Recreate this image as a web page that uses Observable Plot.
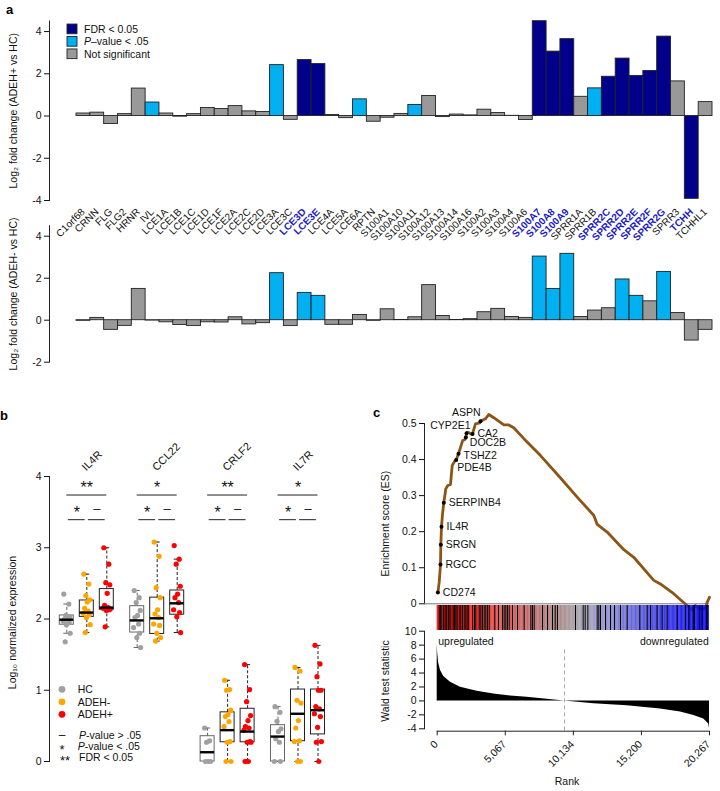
<!DOCTYPE html>
<html><head><meta charset="utf-8">
<script src="https://cdn.jsdelivr.net/npm/d3@7"></script>
<script src="https://cdn.jsdelivr.net/npm/@observablehq/plot@0.6"></script>
<style>
body{margin:0;background:#fff;}
#wrap{position:relative;width:720px;height:791px;overflow:hidden;background:#fff;}
#wrap svg{position:absolute;left:0;top:0;}
</style></head><body><div id="wrap"></div>
<script>
// ---------- Panel a data ----------
const genes = ["C1orf68","CRNN","FLG","FLG2","HRNR","IVL","LCE1A","LCE1B","LCE1C","LCE1D","LCE1F","LCE2A","LCE2C","LCE2D","LCE3A","LCE3C","LCE3D","LCE3E","LCE4A","LCE5A","LCE6A","RPTN","S100A1","S100A10","S100A11","S100A12","S100A13","S100A14","S100A16","S100A2","S100A3","S100A4","S100A6","S100A7","S100A8","S100A9","SPRR1A","SPRR1B","SPRR2C","SPRR2D","SPRR2E","SPRR2F","SPRR2G","SPRR3","TCHH","TCHHL1"];
const lfcPos = [0.12,0.16,-0.38,0.09,1.30,0.64,0.12,-0.03,0.09,0.38,0.33,0.47,0.22,0.19,2.41,-0.18,2.65,2.46,0.05,-0.10,0.79,-0.27,-0.08,0.10,0.52,0.95,-0.05,0.07,0.03,0.30,0.14,0.01,-0.19,4.49,3.05,3.64,0.91,1.31,1.86,2.72,1.90,2.13,3.76,1.64,-3.92,0.66];
const sigPos = ["NS","NS","NS","NS","NS","P","NS","NS","NS","NS","NS","NS","NS","NS","P","NS","FDR","FDR","NS","NS","P","NS","NS","NS","P","NS","NS","NS","NS","NS","NS","NS","NS","FDR","FDR","FDR","NS","P","FDR","FDR","FDR","FDR","FDR","NS","FDR","NS"];
const lfcNeg = [-0.03,0.11,-0.46,-0.27,1.49,-0.02,-0.10,-0.23,-0.28,-0.10,-0.11,0.14,-0.20,-0.14,2.24,-0.28,1.30,1.16,-0.22,-0.22,0.25,-0.03,0.52,0.01,0.14,1.67,0.20,0.01,0.05,0.38,0.54,0.15,0.11,3.03,1.49,3.16,0.15,0.46,0.57,1.94,1.16,0.90,2.30,0.34,-0.97,-0.46];
const sigNeg = ["NS","NS","NS","NS","NS","NS","NS","NS","NS","NS","NS","NS","NS","NS","P","NS","P","P","NS","NS","NS","NS","NS","NS","NS","NS","NS","NS","NS","NS","NS","NS","NS","P","P","P","NS","NS","NS","P","P","NS","P","NS","NS","NS"];
const highlightGenes = ["LCE3D","LCE3E","S100A7","S100A8","S100A9","SPRR2C","SPRR2D","SPRR2E","SPRR2F","SPRR2G","TCHH"];
const sigLabels = ["FDR < 0.05","P–value < .05","Not significant"];
const sigKeys = ["FDR","P","NS"];

// ---------- Panel b data ----------
const bGenes = ["IL4R","CCL22","CRLF2","IL7R"];
const bGroups = ["HC","ADEH-","ADEH+"];
const boxQ1  = [[1.92,2.03,2.13],[1.81,1.79,2.06],[0,0.27,0.27],[0,0.285,0.38]];
const boxMed = [[1.99,2.09,2.16],[1.98,2.01,2.22],[0.13,0.44,0.42],[0.35,0.67,0.72]];
const boxQ3  = [[2.05,2.26,2.42],[2.18,2.30,2.40],[0.355,0.69,0.74],[0.51,1.01,1.01]];
const whiskLo = [[1.80,1.81,1.89],[1.60,1.69,1.81],[0,0,0],[0,0,0]];
const whiskHi = [[2.21,2.63,3.00],[2.40,3.08,2.84],[0.47,1.14,1.36],[0.77,1.32,1.63]];
const exprIL4R = [[2.35,2.21,2.05,2.03,2.01,2.0,1.99,1.97,1.95,1.92,1.80,1.68],[2.63,2.49,2.33,2.27,2.24,2.15,2.11,2.08,2.06,2.02,1.92,1.81],[3.0,2.77,2.51,2.48,2.36,2.19,2.16,2.15,2.13,2.12,2.14,1.89]];
const exprCCL22 = [[2.40,2.30,2.23,2.12,2.05,2.02,1.93,1.88,1.80,1.74,1.60],[3.08,2.88,2.44,2.30,2.13,2.07,2.02,1.93,1.91,1.80,1.74,1.69],[3.03,2.84,2.77,2.46,2.35,2.30,2.23,2.13,2.09,2.03,1.81]];
const exprCRLF2 = [[0.47,0.29,0.27,0,0,0],[1.14,1.01,1.0,0.72,0.66,0.63,0.56,0.49,0.28,0.27,0,0],[1.36,1.01,0.84,0.645,0.575,0.49,0.47,0.44,0.28,0.27,0.27,0,0,0]];
const exprIL7R = [[0.77,0.69,0.565,0.46,0.42,0.32,0.27,0,0],[1.32,1.27,0.86,0.82,0.575,0.47,0.29,0.28,0,0],[1.63,1.37,1.19,1.0,1.0,0.77,0.74,0.67,0.63,0.48,0.28,0.27,0]];
const sigAll = ["**","*","**","*"];
const sigHCvsNeg = ["*","*","*","*"];
const sigNegvsPos = ["–","–","–","–"];

// ---------- Panel c data ----------
const esRank = [50,150,230,245,270,320,400,490,640,790,990,1115,1290,1414,1585,1730,1900,2050,2130,2185,2280,2560,2627,2720,2850,3170,3223,3590,3843,4210,4960,5330,5700,6450,7190,7690,9180,10420,11660,11910,12650,13890,14630,16120,16610,17600,18720,18980,19220,19470,19720,19970,20090,20267];
const esValue = [0.031,0.06,0.10,0.109,0.164,0.214,0.25,0.28,0.319,0.328,0.331,0.383,0.395,0.399,0.416,0.433,0.453,0.455,0.461,0.473,0.476,0.470,0.471,0.483,0.499,0.502,0.506,0.513,0.525,0.516,0.496,0.496,0.488,0.458,0.430,0.411,0.349,0.296,0.245,0.220,0.199,0.150,0.129,0.065,0.055,0.028,-0.009,-0.017,-0.005,-0.014,-0.013,-0.014,0.004,0.018];
const leadGenes = ["CD274","RGCC","SRGN","IL4R","SERPINB4","PDE4B","TSHZ2","DOC2B","CYP2E1","CA2","ASPN"];
const leadRank = [50,245,270,320,490,1414,1585,2130,2185,2627,3223];
const leadES = [0.031,0.109,0.164,0.214,0.28,0.399,0.416,0.461,0.473,0.471,0.506];
const hitRanks = [146,246,345,469,593,692,817,891,1015,1189,1288,1387,1486,1635,1759,1883,2007,2131,2230,2330,2627,2776,2875,3124,3248,3372,3496,3620,3744,3868,4290,4563,4861,4985,5109,5233,5357,5605,5977,6474,6970,7094,7218,7838,8210,8582,8780,8954,10293,10865,11013,11212,11906,12030,12154,12527,12899,13196,13643,14139,15082,15627,15875,16372,16744,17116,17860,18481,18729,19051,19150,19547,19721,20044,20093];
const waldRank = [0,30,100,246,490,990,1735,2975,4210,5450,6690,8180,9475,11660,14140,16620,18110,19100,19840,20210,20267];
const waldValue = [8.2,7.0,5.5,4.35,3.5,2.67,1.95,1.38,1.0,0.72,0.52,0.25,0,-0.4,-0.7,-1.15,-1.6,-2.1,-2.6,-3.3,-4.0];
const waldZeroRank = 9475;
const rankTicks = [0,5067,10134,15200,20267];

// ---------- common ----------
const FONT = "Liberation Sans, Arial, Helvetica, sans-serif";
const STYLE = `background:none;overflow:visible;font-family:${FONT};font-size:10.5px;color:#111;`;
const W = 720, H = 791;
const wrap = document.getElementById("wrap");
const add = p => wrap.appendChild(p);
const sigColor = {FDR:"#00008B", P:"#00B0F0", NS:"#999999"};
const hl = new Set(highlightGenes);
const yTitle = (label, dx, dy) => Plot.text([label], {frameAnchor:"left", rotate:-90, textAnchor:"middle", dx, dy, fontSize:10.5});

function barPanel(values, sigs, top, bottom, ydom, yticks, ylabel, withLabels) {
  const data = genes.map((g,i)=>({gene:g, v:values[i], sig:sigs[i]}));
  const marks = [
    Plot.frame({anchor:"left", stroke:"#222"}),
    Plot.axisY({ticks:yticks, tickSize:5, tickPadding:3, tickFormat:d=>String(d), label:null, fontSize:10.5}),
    Plot.barY(data, {x:"gene", y:"v", fill:d=>sigColor[d.sig], stroke:"#222", strokeWidth:0.9}),
    yTitle(ylabel, -36, 0)
  ];
  if (withLabels) {
    marks.push(Plot.text(genes, {filter:g=>!hl.has(g), x:g=>g, text:g=>g, frameAnchor:"bottom", dx:2, dy:12, rotate:-45, textAnchor:"end", fontSize:10, fill:"#111"}));
    marks.push(Plot.text(genes, {filter:g=>hl.has(g), x:g=>g, text:g=>g, frameAnchor:"bottom", dx:2, dy:12, rotate:-45, textAnchor:"end", fontSize:10, fontWeight:"bold", fill:"#1c1cc4"}));
  }
  return Plot.plot({
    width:W, height:H, marginLeft:49, marginRight:8, marginTop:top, marginBottom:H-bottom,
    style:STYLE,
    x:{type:"band", domain:genes, range:[76,712], padding:0, axis:null},
    y:{domain:ydom, axis:null},
    color:{type:"identity"},
    marks
  });
}
add(barPanel(lfcPos, sigPos, 20.5, 200, [-4,4.5], [-4,-2,0,2,4], "Log₂ fold change (ADEH+ vs HC)", true));
add(barPanel(lfcNeg, sigNeg, 225.2, 361.7, [-2,4.5], [-2,0,2,4], "Log₂ fold change (ADEH- vs HC)", false));

// ---------- Panel b ----------
const GENE_STEP = 3.52, HALF_BOX = 0.35;
const groupColor = {"HC":"#a0a0a0","ADEH-":"#FFA500","ADEH+":"#FF0000"};
const exprAll = [exprIL4R, exprCCL22, exprCRLF2, exprIL7R];
const jitter = [-0.15,0.1,-0.05,0.15,0.02,-0.11,0.07,-0.18,0.12,-0.02,0.17,-0.08,0.04,-0.13];
const boxes = [], pts = [];
bGenes.forEach((g,gi)=>bGroups.forEach((grp,si)=>{
  const x = gi*GENE_STEP + si;
  boxes.push({gene:g, grp, x, q1:boxQ1[gi][si], med:boxMed[gi][si], q3:boxQ3[gi][si], lo:whiskLo[gi][si], hi:whiskHi[gi][si]});
  exprAll[gi][si].forEach((v,k)=>pts.push({gene:g, grp, x: x + jitter[k % jitter.length], v}));
}));
const geneMid = bGenes.map((g,gi)=>({g, i:gi, x0:gi*GENE_STEP, all:sigAll[gi], a:sigHCvsNeg[gi], b:sigNegvsPos[gi]}));
const SIG_TOP = 3.74, SIG_ROW2 = 3.394;
const boxStroke = d => d.grp==="HC" ? "#666" : "#222";
add(Plot.plot({
  width:W, height:H, marginLeft:49, marginRight:371, marginTop:476, marginBottom:30,
  style:STYLE,
  x:{domain:[-0.865,14.135], axis:null},
  y:{domain:[0,4], axis:null},
  color:{type:"identity"},
  marks:[
    Plot.frame({anchor:"left", stroke:"#222"}),
    Plot.axisY({ticks:[0,1,2,3,4], tickFormat:d=>String(d), tickSize:5, tickPadding:3, label:null, fontSize:10.5}),
    yTitle("Log₁₀ normalized expression", -37, 3.5),
    Plot.text(bGenes, {x:(g,i)=>i*GENE_STEP+1, text:g=>g, frameAnchor:"top", dx:-6, dy:-10.5, rotate:-45, textAnchor:"start", fontSize:11}),
    // whiskers
    Plot.ruleX(boxes, {x:"x", y1:"q3", y2:"hi", stroke:boxStroke, strokeDasharray:"3,2"}),
    Plot.ruleX(boxes, {x:"x", y1:"lo", y2:"q1", stroke:boxStroke, strokeDasharray:"3,2"}),
    Plot.ruleY(boxes, {y:"hi", x1:d=>d.x-0.15, x2:d=>d.x+0.15, stroke:boxStroke}),
    Plot.ruleY(boxes, {y:"lo", x1:d=>d.x-0.15, x2:d=>d.x+0.15, stroke:boxStroke}),
    Plot.rect(boxes, {x1:d=>d.x-HALF_BOX, x2:d=>d.x+HALF_BOX, y1:"q1", y2:"q3", fill:"none", stroke:boxStroke}),
    Plot.dot(pts, {x:"x", y:"v", r:2.6, fill:d=>groupColor[d.grp], stroke:"none"}),
    Plot.ruleY(boxes, {y:"med", x1:d=>d.x-HALF_BOX, x2:d=>d.x+HALF_BOX, stroke:"#000", strokeWidth:2.4}),
    // significance
    Plot.ruleY(geneMid, {y:SIG_TOP, x1:d=>d.x0, x2:d=>d.x0+2, stroke:"#222"}),
    Plot.text(geneMid, {x:d=>d.x0+1, y:SIG_TOP, text:"all", dy:-6.8, fontSize:16}),
    Plot.ruleY(geneMid, {y:SIG_ROW2, x1:d=>d.x0+0.08, x2:d=>d.x0+0.92, stroke:"#222"}),
    Plot.ruleY(geneMid, {y:SIG_ROW2, x1:d=>d.x0+1.08, x2:d=>d.x0+1.92, stroke:"#222"}),
    Plot.text(geneMid, {x:d=>d.x0+0.5, y:SIG_ROW2, text:"a", dy:-6.8, fontSize:16}),
    Plot.text(geneMid, {x:d=>d.x0+1.5, y:SIG_ROW2, text:"b", dy:-11, fontSize:13})
  ]
}));

// ---------- Panel c ----------
const RMAX = 20267;
const rankLeft = -12.7 * RMAX / 272.3;
const esData = esRank.map((r,i)=>({rank:r, es:esValue[i]}));
const leadData = leadGenes.map((g,i)=>({g, rank:leadRank[i], es:leadES[i]}));
const labelPlace = {CYP2E1:["end",4,-8], ASPN:["end",0,-9], PDE4B:["start",1,7.5], TSHZ2:["start",5,2], DOC2B:["start",4,5.5]};
const ES_COLOR = "#8c5514";
add(Plot.plot({
  width:W, height:H, marginLeft:424, marginRight:11, marginTop:423, marginBottom:H-603.3,
  style:STYLE,
  x:{domain:[rankLeft, RMAX], axis:null},
  y:{domain:[0,0.5], axis:null},
  marks:[
    Plot.frame({anchor:"left", stroke:"#222"}),
    Plot.axisY({ticks:[0,0.1,0.2,0.3,0.4,0.5], tickFormat:d=>d===0?"0":d.toFixed(1), tickSize:5, tickPadding:3, label:null, fontSize:10.5}),
    Plot.ruleY([0], {stroke:"#777"}),
    yTitle("Enrichment score (ES)", -39, 10),
    Plot.line(esData, {x:"rank", y:"es", stroke:ES_COLOR, strokeWidth:2.8, strokeLinejoin:"round"}),
    Plot.dot(leadData, {x:"rank", y:"es", r:2, fill:"#000"}),
    ...leadData.map(d=>{
      const [anchor, dx, dy] = labelPlace[d.g] || ["start",5,0];
      return Plot.text([d], {x:"rank", y:"es", text:"g", textAnchor:anchor, dx, dy, fontSize:10.5});
    })
  ]
}));

// color bar with hits
const cramp = d3.scaleLinear()
  .domain([0,0.12,0.23,0.45,0.52,0.6,0.75,0.9,1].map(t=>t*RMAX))
  .range(["#ff0000","#f51a1a","#dc5050","#a88888","#a8a4ac","#9898c8","#5a5add","#2020f0","#0000ff"]);
const gradBins = d3.range(0, RMAX, 60);
add(Plot.plot({
  width:W, height:H, marginLeft:424, marginRight:11, marginTop:605, marginBottom:H-630,
  style:STYLE,
  x:{domain:[rankLeft, RMAX], axis:null},
  y:{domain:[0,1], axis:null},
  color:{type:"identity"},
  marks:[
    Plot.rect(gradBins, {x1:d=>d, x2:d=>Math.min(RMAX, d+75), y1:0, y2:1, fill:d=>cramp(d+30)}),
    Plot.ruleX(hitRanks, {stroke:"#000", strokeWidth:1})
  ]
}));

// Wald statistic
const waldData = waldRank.map((r,i)=>({rank:r, w:waldValue[i]}));
const TICK_UNITS = 4.6 / 6.97; // 4.6px outward tick length expressed in Wald units
add(Plot.plot({
  width:W, height:H, marginLeft:424, marginRight:11, marginTop:630.7, marginBottom:H-728.3,
  style:STYLE,
  x:{domain:[rankLeft, RMAX], axis:null},
  y:{domain:[-4,10], axis:null},
  marks:[
    Plot.frame({anchor:"left", stroke:"#222"}),
    Plot.axisY({ticks:[-4,-2,0,2,4,6,8,10], tickFormat:d=>String(d), tickSize:5, tickPadding:3, label:null, fontSize:10.5}),
    Plot.areaY(waldData, {x:"rank", y:"w", fill:"#000"}),
    Plot.ruleX([waldZeroRank], {y1:-4.3, y2:7.6, stroke:"#aaa", strokeDasharray:"4,3"}),
    Plot.ruleY([-4], {x1:rankTicks[0], x2:rankTicks[rankTicks.length-1], dy:2.4, stroke:"#222"}),
    Plot.ruleX(rankTicks, {x:d=>d, y1:-4, y2:-4-TICK_UNITS, dy:2.4, stroke:"#222"}),
    Plot.text(rankTicks, {x:d=>d, text:d3.format(","), frameAnchor:"bottom", rotate:-45, textAnchor:"end", dx:1.5, dy:16, fontSize:10.5}),
    Plot.text(["upregulated"], {frameAnchor:"top-left", dx:13.7, dy:6.6, textAnchor:"start", fontSize:10.5}),
    Plot.text(["downregulated"], {frameAnchor:"top-right", dx:-0.7, dy:6.6, textAnchor:"end", fontSize:10.5}),
    yTitle("Wald test statistic", -39, 1),
    Plot.text(["Rank"], {frameAnchor:"bottom", dy:56, fontSize:10.5})
  ]
}));

// ---------- legends and panel letters ----------
const ov = d3.select(wrap).append("svg").attr("width",W).attr("height",H).attr("font-family",FONT).attr("font-size",10.5).attr("fill","#111");
// legend a
sigKeys.forEach((k,i)=>{
  const cy = 28.9 + i*12.45;
  ov.append("rect").attr("x",67).attr("y",cy-4.85).attr("width",10).attr("height",9.7).attr("fill",sigColor[k]).attr("stroke","#222").attr("stroke-width",0.9);
  const t = ov.append("text").attr("x",84).attr("y",cy+3.7);
  if (k==="P") { t.append("tspan").attr("font-style","italic").text("P"); t.append("tspan").text(sigLabels[i].slice(1)); }
  else t.text(sigLabels[i]);
});
// legend b
bGroups.forEach((grp,i)=>{
  const cy = 689.3 + i*12.5;
  ov.append("circle").attr("cx",62).attr("cy",cy).attr("r",3.4).attr("fill",groupColor[grp]);
  ov.append("text").attr("x",77.7).attr("y",cy+3.7).text(grp);
});
const symLegend = [["–","P-value > .05",735,0.3,12],["*","P-value < .05",746.7,0.55,13],["**","FDR < 0.05",757.7,0.55,13]];
symLegend.forEach(([sym,lab,cy,off,fs],i)=>{
  ov.append("text").attr("x",i===2?65:62).attr("y",cy+off*fs).attr("text-anchor","middle").attr("font-size",fs).text(sym);
  const t = ov.append("text").attr("x",i===1?77.7:79).attr("y",cy+3.7);
  if (lab.startsWith("P")) { t.append("tspan").attr("font-style","italic").text("P"); t.append("tspan").text(lab.slice(1)); }
  else t.text(lab);
});
// panel letters
[["a",6,14],["b",0,420],["c",373,416.7]].forEach(([l,x,y])=>{
  ov.append("text").attr("x",x).attr("y",y).attr("font-weight","bold").attr("font-size",13).attr("fill","#000").text(l);
});
</script>
</body></html>
